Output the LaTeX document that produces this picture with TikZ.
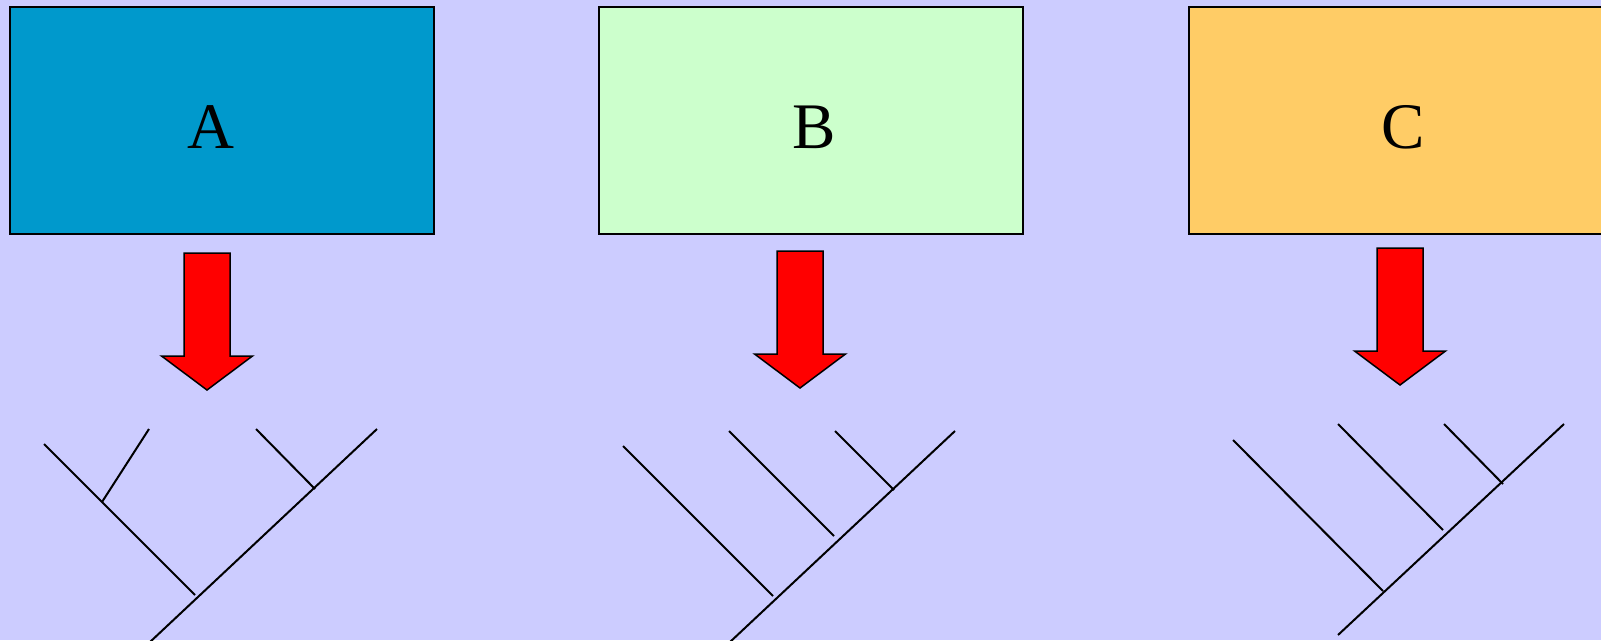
\documentclass[tikz,border=0pt]{standalone}
\usepackage{fontspec}
\setmainfont{Liberation Serif}
\definecolor{bg}{HTML}{CCCCFF}
\definecolor{boxA}{HTML}{0099CC}
\definecolor{boxB}{HTML}{CCFFCC}
\definecolor{boxC}{HTML}{FFCC66}
\tikzset{
  box/.style={draw=black, line width=2pt, inner sep=0pt, minimum width=424pt, minimum height=227pt, anchor=north west},
  lbl/.style={anchor=base, inner sep=0pt, font=\fontsize{65}{65}\selectfont},
  branch/.style={draw=black, line width=2pt},
  downarrow/.pic={\draw[fill=red, draw=black, line width=1.5pt, line join=miter]
     (-23,0) -- (23,0) -- (23,103) -- (45.5,103) -- (0,137) -- (-45.5,103) -- (-23,103) -- cycle;}
}
\begin{document}
\begin{tikzpicture}[x=1pt,y=-1pt]
\useasboundingbox (0,0) rectangle (1601,640);
\clip (0,0) rectangle (1601,640);
\fill[bg] (0,0) rectangle (1601,640);
% boxes
\node[box, fill=boxA] (A) at (9,6) {};
\node[box, fill=boxB] (B) at (598,6) {};
\node[box, fill=boxC] (C) at (1188,6) {};
\node[lbl] (Alabel) at (211,148.5) {A};
\node[lbl] (Blabel) at (814,148.5) {B};
\node[lbl] (Clabel) at (1403,148.5) {C};
% block arrows
\pic at (207,253) {downarrow};
\pic at (800,251) {downarrow};
\pic at (1400,248) {downarrow};
% tree A
\coordinate (a0) at (150,642);
\coordinate (a1) at (377,429);
\coordinate (a2) at (44,444);
\coordinate (a3) at (195,595);
\coordinate (a4) at (102,502);
\coordinate (a5) at (149,429);
\coordinate (a6) at (256,429);
\coordinate (a7) at (315,489);
\draw[branch] (a0) -- (a1);
\draw[branch] (a2) -- (a3);
\draw[branch] (a4) -- (a5);
\draw[branch] (a6) -- (a7);
% tree B
\coordinate (b0) at (730,642);
\coordinate (b1) at (955,431);
\coordinate (b2) at (623,446);
\coordinate (b3) at (773,596);
\coordinate (b4) at (729,431);
\coordinate (b5) at (834,536);
\coordinate (b6) at (835,431);
\coordinate (b7) at (894,490);
\draw[branch] (b0) -- (b1);
\draw[branch] (b2) -- (b3);
\draw[branch] (b4) -- (b5);
\draw[branch] (b6) -- (b7);
% tree C
\coordinate (c0) at (1338,635);
\coordinate (c1) at (1564,424);
\coordinate (c2) at (1233,440);
\coordinate (c3) at (1383,591);
\coordinate (c4) at (1338,424);
\coordinate (c5) at (1443,530);
\coordinate (c6) at (1444,424);
\coordinate (c7) at (1503,484);
\draw[branch] (c0) -- (c1);
\draw[branch] (c2) -- (c3);
\draw[branch] (c4) -- (c5);
\draw[branch] (c6) -- (c7);
\end{tikzpicture}
\end{document}
